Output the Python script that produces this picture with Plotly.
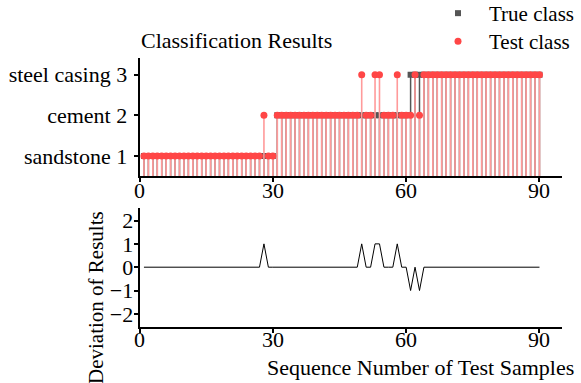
import plotly.graph_objects as go

W, H = 581, 383

samples = list(range(1, 91))
true_class = [1,1,1,1,1,1,1,1,1,1, 1,1,1,1,1,1,1,1,1,1, 1,1,1,1,1,1,1,1,1,1,
              2,2,2,2,2,2,2,2,2,2, 2,2,2,2,2,2,2,2,2,2, 2,2,2,2,2,2,2,2,2,2,
              3,3,3,3,3,3,3,3,3,3, 3,3,3,3,3,3,3,3,3,3, 3,3,3,3,3,3,3,3,3,3]
test_class = [1,1,1,1,1,1,1,1,1,1, 1,1,1,1,1,1,1,1,1,1, 1,1,1,1,1,1,1,2,1,1,
              2,2,2,2,2,2,2,2,2,2, 2,2,2,2,2,2,2,2,2,3, 2,2,3,3,2,2,2,3,2,2,
              2,3,2,3,3,3,3,3,3,3, 3,3,3,3,3,3,3,3,3,3, 3,3,3,3,3,3,3,3,3,3]
deviation = [t - r for t, r in zip(test_class, true_class)]

class_ticks = [1, 2, 3]
class_labels = ["sandstone 1", "cement 2", "steel casing 3"]
x_ticks = [0, 30, 60, 90]
x_tick_labels = ["0", "30", "60", "90"]
dev_ticks = [-2, -1, 0, 1, 2]

FONT = "Liberation Serif"
RED = "#ff4646"
STEM_RED = "#ff9a9a"
GRAY = "#555555"


def stems(xs, ys, base=0):
    sx, sy = [], []
    for x, y in zip(xs, ys):
        sx += [x, x, None]
        sy += [base, y, None]
    return sx, sy


fig = go.Figure()

gx, gy = stems(samples, true_class)
fig.add_trace(go.Scatter(x=gx, y=gy, mode="lines", line=dict(color=GRAY, width=1.5),
                         showlegend=False, hoverinfo="skip", xaxis="x", yaxis="y"))
fig.add_trace(go.Scatter(x=samples, y=true_class, mode="markers", name="True class",
                         marker=dict(symbol="square", size=6, color=GRAY),
                         legend="legend", xaxis="x", yaxis="y"))
rx, ry = stems(samples, test_class)
fig.add_trace(go.Scatter(x=rx, y=ry, mode="lines", line=dict(color=STEM_RED, width=1.6),
                         showlegend=False, hoverinfo="skip", xaxis="x", yaxis="y"))
fig.add_trace(go.Scatter(x=samples, y=test_class, mode="markers", name="Test class",
                         marker=dict(symbol="circle", size=7, color=RED),
                         legend="legend2", xaxis="x", yaxis="y"))

fig.add_trace(go.Scatter(x=samples, y=deviation, mode="lines", line=dict(color="black", width=1),
                         showlegend=False, xaxis="x2", yaxis="y2"))

xdom = [139.5 / W, 561.7 / W]
axis_common = dict(showline=True, linecolor="black", linewidth=1.8, ticks="outside",
                   ticklen=4, tickwidth=1.5, tickcolor="black", showgrid=False, zeroline=False,
                   automargin=False,
                   tickfont=dict(family=FONT, size=22, color="black"))

legend_common = dict(xanchor="left", yanchor="top", bgcolor="rgba(0,0,0,0)",
                     font=dict(family=FONT, size=21, color="black"), tracegroupgap=0,
                     itemsizing="trace", itemwidth=52)

annotations = [
    dict(text="Classification Results", x=139 / W, y=1 - 41 / H, xref="paper", yref="paper",
         xanchor="left", yanchor="middle", showarrow=False,
         font=dict(family=FONT, size=22, color="black")),
    dict(text="Sequence Number of Test Samples", x=420 / W, y=1 - 367 / H, xref="paper",
         yref="paper", xanchor="center", yanchor="middle", showarrow=False,
         font=dict(family=FONT, size=22, color="black")),
    dict(text="Deviation of Results", x=96 / W, y=1 - 298 / H, xref="paper", yref="paper",
         xanchor="center", yanchor="middle", textangle=-90, showarrow=False,
         font=dict(family=FONT, size=21, color="black")),
]
for xref, ypix in (("x", 191), ("x2", 339)):
    for v, lab in zip(x_ticks, x_tick_labels):
        annotations.append(dict(text=lab, x=v, y=1 - ypix / H, xref=xref, yref="paper",
                                xanchor="center", yanchor="middle", showarrow=False,
                                font=dict(family=FONT, size=22, color="black")))

fig.update_layout(
    template="none",
    width=W, height=H,
    margin=dict(l=0, r=0, t=0, b=0, pad=0, autoexpand=False),
    paper_bgcolor="white", plot_bgcolor="white",
    font=dict(family=FONT, size=22, color="black"),
    xaxis=dict(domain=xdom, range=[0, 95], tickvals=x_ticks, anchor="y",
               showticklabels=False, **axis_common),
    yaxis=dict(domain=[1 - 176 / H, 1 - 58 / H], range=[0.51, 3.41], tickvals=class_ticks,
               ticktext=class_labels, anchor="x", ticklabelstandoff=2, **axis_common),
    xaxis2=dict(domain=xdom, range=[0, 95], tickvals=x_ticks, anchor="y2",
                showticklabels=False, **axis_common),
    yaxis2=dict(domain=[1 - 326.7 / H, 1 - 207.7 / H], range=[-2.55, 2.55], tickvals=dev_ticks,
                anchor="x2", ticklabelstandoff=-4, **axis_common),
    showlegend=True,
    legend=dict(x=427 / W, y=1 + 7 / H, **legend_common),
    legend2=dict(x=427 / W, y=1 - 21 / H, **legend_common),
    annotations=annotations,
)

fig.write_html("out.html")
